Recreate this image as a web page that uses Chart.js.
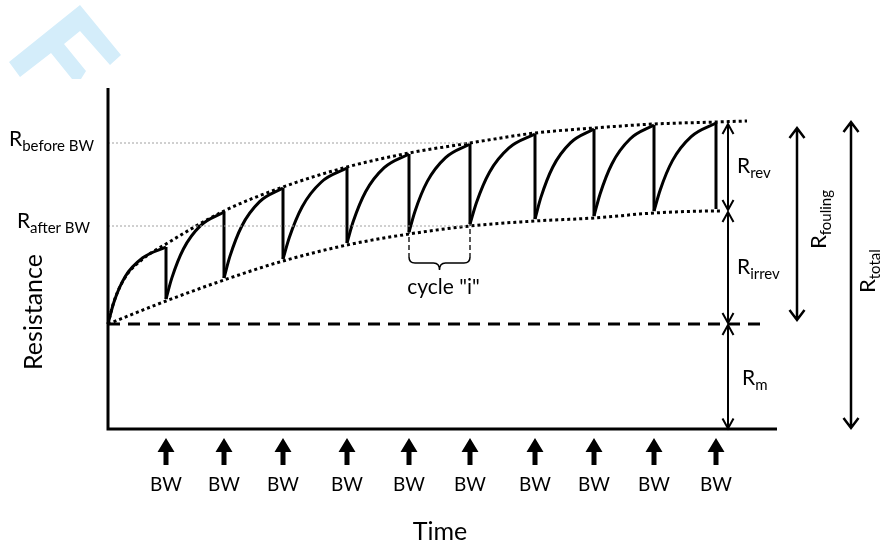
<!DOCTYPE html>
<html>
<head>
<meta charset="utf-8">
<script src="https://cdn.jsdelivr.net/npm/chart.js@4.4.1/dist/chart.umd.min.js"></script>
<style>
  html, body { margin: 0; padding: 0; background: #fff; }
  canvas { display: block; }
</style>
</head>
<body>
<canvas id="grafik" width="883" height="544"></canvas>
<script>
// data (waktu dan resistansi dalam satuan bebas)
const bwTime = [5.8, 11.6, 17.5, 23.9, 30.1, 36.2, 42.7, 48.6, 54.6, 60.8];
const peakR = [18.2, 21.7, 24.1, 26.1, 27.5, 28.5, 29.5, 30.0, 30.4, 30.6];
const afterBwR = [13.0, 15.1, 17.0, 18.6, 19.7, 20.5, 21.0, 21.3, 21.8, 22.0];
const rMembrane = 10.5;
const rBefore = 28.6;
const rAfter = 20.3;
const axisTop = 34.1;
const axisEnd = 66.9;

// kurva filtrasi tiap siklus
const cycleT = [
  [0, 0.58, 1.74, 3.48, 5.8],
  [5.8, 6.38, 7.54, 9.28, 11.6],
  [11.6, 12.19, 13.37, 15.14, 17.5],
  [17.5, 18.14, 19.42, 21.34, 23.9],
  [23.9, 24.52, 25.76, 27.62, 30.1],
  [30.1, 30.71, 31.93, 33.76, 36.2],
  [36.2, 36.85, 38.15, 40.1, 42.7],
  [42.7, 43.29, 44.47, 46.24, 48.6],
  [48.6, 49.2, 50.4, 52.2, 54.6],
  [54.6, 55.22, 56.46, 58.32, 60.8],
];
const cycleR = [
  [10.5, 12.66, 15.27, 17.12, 18.2],
  [13.0, 15.09, 18.0, 20.36, 21.7],
  [15.1, 17.26, 20.28, 22.71, 24.1],
  [17.0, 19.18, 22.23, 24.7, 26.1],
  [18.6, 20.74, 23.72, 26.13, 27.5],
  [19.7, 21.81, 24.76, 27.14, 28.5],
  [20.5, 22.66, 25.68, 28.11, 29.5],
  [21.0, 23.16, 26.18, 28.61, 30.0],
  [21.3, 23.48, 26.53, 29.0, 30.4],
  [21.8, 23.91, 26.86, 29.24, 30.6],
];

// garis titik-titik atas dan bawah
const upperT = [0, 0.58, 1.74, 3.48, 5.8, 11.6, 17.5, 23.9, 30.1, 36.2, 42.7, 48.6, 54.6, 60.8, 63.9];
const upperR = [10.5, 12.7, 15.2, 17.0, 18.5, 21.8, 24.2, 26.2, 27.6, 28.6, 29.6, 30.1, 30.5, 30.7, 30.8];
const lowerT = [0, 5.8, 11.6, 17.5, 23.9, 30.1, 36.2, 42.7, 48.6, 54.6, 60.8, 61.3];
const lowerR = [10.5, 12.8, 14.9, 16.8, 18.4, 19.5, 20.3, 20.8, 21.1, 21.6, 21.8, 21.8];

// siklus "i" dan panah kanan
const cycleI = [30.1, 36.2];
const cycleITop = 23.2;
const cycleIBottom = 17.2;
const arrowX = { rev: 62.0, fouling: 68.9, total: 74.3 };
const revTop = 30.5, revBottom = 21.9;
const irrevTop = 21.7, irrevBottom = 10.6;
const mTop = 10.4, mBottom = 0.05;
const foulingTop = 30.1, foulingBottom = 10.9;
const totalTop = 30.7, totalBottom = 0.1;

const FONT = "Lato, 'Open Sans', sans-serif";

function titik(ts, rs) {
  return ts.map((t, i) => ({ x: t, y: rs[i] }));
}

const datasets = [];

// sumbu
datasets.push({
  data: [{ x: 0, y: axisTop }, { x: 0, y: 0 }, { x: axisEnd, y: 0 }],
  borderColor: "#000", borderWidth: 3, clip: false, tension: 0,
});

// garis R membran
datasets.push({
  data: [{ x: 0, y: rMembrane }, { x: 65.7, y: rMembrane }],
  borderColor: "#000", borderWidth: 3, borderDash: [12, 8], clip: false,
});

// garis bantu abu-abu
[rBefore, rAfter].forEach((r) => {
  datasets.push({
    data: [{ x: 0, y: r }, { x: 36.2, y: r }],
    borderColor: "#a0a0a0", borderWidth: 1, borderDash: [2, 2],
  });
});

// envelope atas dan bawah
datasets.push({
  data: titik(upperT, upperR),
  borderColor: "#000", borderWidth: 3, borderDash: [3, 3],
  cubicInterpolationMode: "monotone", clip: false,
});
datasets.push({
  data: titik(lowerT, lowerR),
  borderColor: "#000", borderWidth: 3, borderDash: [3, 3],
  cubicInterpolationMode: "monotone", clip: false,
});

// kurva tiap siklus
cycleT.forEach((ts, i) => {
  datasets.push({
    data: titik(ts, cycleR[i]),
    borderColor: "#000", borderWidth: 3,
    cubicInterpolationMode: "monotone", clip: false,
  });
});

// penurunan saat backwash
const drop = [];
bwTime.forEach((t, i) => {
  drop.push({ x: t, y: peakR[i] }, { x: t, y: afterBwR[i] }, { x: t, y: null });
});
datasets.push({
  data: drop, borderColor: "#000", borderWidth: 3, spanGaps: false, tension: 0, clip: false,
});

// garis putus siklus "i"
const garisI = [];
cycleI.forEach((t) => {
  garisI.push({ x: t, y: cycleITop }, { x: t, y: cycleIBottom }, { x: t, y: null });
});
datasets.push({
  data: garisI, borderColor: "#222", borderWidth: 1.5, borderDash: [5, 3], spanGaps: false, tension: 0,
});

// tulisan R dengan subscript
function tulisR(ctx, x, y, sub, rataKanan, besar) {
  const fR = (besar || 21) + "px " + FONT;
  const fS = "15px " + FONT;
  ctx.font = fR;
  const wR = ctx.measureText("R").width;
  ctx.font = fS;
  const wS = ctx.measureText(sub).width;
  let x0 = rataKanan ? x - wR - wS : x;
  ctx.textAlign = "left";
  ctx.textBaseline = "alphabetic";
  ctx.font = fR;
  ctx.fillText("R", x0, y);
  ctx.font = fS;
  ctx.fillText(sub, x0 + wR, y + 5);
}

function panahV(ctx, x, y1, y2, atas, bawah, lebar) {
  const h = lebar || 6;
  ctx.beginPath();
  ctx.moveTo(x, y1);
  ctx.lineTo(x, y2);
  if (atas) {
    ctx.moveTo(x - h, y1 + 10);
    ctx.lineTo(x, y1);
    ctx.lineTo(x + h, y1 + 10);
  }
  if (bawah) {
    ctx.moveTo(x - h, y2 - 10);
    ctx.lineTo(x, y2);
    ctx.lineTo(x + h, y2 - 10);
  }
  ctx.stroke();
}

const anotasi = {
  id: "anotasi",
  beforeDatasetsDraw(chart) {
    // logo watermark
    const ctx = chart.ctx;
    const logo = [[9, 62], [80, 5], [121, 55], [110, 65], [80, 31], [64, 44], [86, 71], [81, 79], [72, 79], [51, 53], [20, 77]];
    ctx.save();
    ctx.fillStyle = "#d4edfa";
    ctx.beginPath();
    logo.forEach((p, i) => (i ? ctx.lineTo(p[0], p[1]) : ctx.moveTo(p[0], p[1])));
    ctx.closePath();
    ctx.fill();
    ctx.restore();
  },
  afterDraw(chart) {
    const ctx = chart.ctx;
    const px = (v) => chart.scales.x.getPixelForValue(v);
    const py = (v) => chart.scales.y.getPixelForValue(v);
    ctx.save();
    ctx.fillStyle = "#000";
    ctx.strokeStyle = "#000";

    // label kiri
    tulisR(ctx, 94, py(rBefore) + 3, "before BW", true);
    tulisR(ctx, 90, py(rAfter) + 2, "after BW", true);

    // judul sumbu
    ctx.save();
    ctx.translate(34, 312);
    ctx.rotate(-Math.PI / 2);
    ctx.font = "25px " + FONT;
    ctx.textAlign = "center";
    ctx.textBaseline = "middle";
    ctx.fillText("Resistance", 0, 0);
    ctx.restore();
    ctx.font = "25px " + FONT;
    ctx.textAlign = "center";
    ctx.textBaseline = "alphabetic";
    ctx.fillText("Time", 440, 540);

    // panah BW
    bwTime.forEach((t) => {
      const x = px(t);
      ctx.beginPath();
      ctx.moveTo(x, 438);
      ctx.lineTo(x + 8.5, 452);
      ctx.lineTo(x + 2.5, 452);
      ctx.lineTo(x + 2.5, 465);
      ctx.lineTo(x - 2.5, 465);
      ctx.lineTo(x - 2.5, 452);
      ctx.lineTo(x - 8.5, 452);
      ctx.closePath();
      ctx.fill();
      ctx.font = "19px " + FONT;
      ctx.textAlign = "center";
      ctx.fillText("BW", x, 491);
    });

    // kurung kurawal siklus "i"
    const x1 = px(cycleI[0]), x2 = px(cycleI[1]), xm = (x1 + x2) / 2;
    const yA = py(cycleIBottom), yB = yA + 6, yC = yA + 13;
    ctx.lineWidth = 1.5;
    ctx.beginPath();
    ctx.moveTo(x1, yA);
    ctx.quadraticCurveTo(x1, yB, x1 + 6, yB);
    ctx.lineTo(xm - 6, yB);
    ctx.quadraticCurveTo(xm, yB, xm, yC);
    ctx.moveTo(x2, yA);
    ctx.quadraticCurveTo(x2, yB, x2 - 6, yB);
    ctx.lineTo(xm + 6, yB);
    ctx.quadraticCurveTo(xm, yB, xm, yC);
    ctx.stroke();
    ctx.font = "21px " + FONT;
    ctx.textAlign = "center";
    ctx.fillText('cycle "i"', xm + 4, 294);

    // panah kanan
    ctx.lineWidth = 2;
    const xr = px(arrowX.rev);
    panahV(ctx, xr, py(revTop), py(revBottom), true, true, 5.5);
    panahV(ctx, xr, py(irrevTop), py(irrevBottom), true, true, 5.5);
    panahV(ctx, xr, py(mTop), py(mBottom), true, true, 5.5);
    ctx.lineWidth = 2.5;
    panahV(ctx, px(arrowX.fouling), py(foulingTop), py(foulingBottom), true, true, 7.5);
    panahV(ctx, px(arrowX.total), py(totalTop), py(totalBottom), true, true, 7.5);

    tulisR(ctx, 737, (py(revTop) + py(revBottom)) / 2 + 6, "rev", false);
    tulisR(ctx, 737, (py(irrevTop) + py(irrevBottom)) / 2 + 6, "irrev", false);
    tulisR(ctx, 742, (py(mTop) + py(mBottom)) / 2 + 8, "m", false);

    ctx.save();
    ctx.translate(826, 249);
    ctx.rotate(-Math.PI / 2);
    tulisR(ctx, 0, 0, "fouling", false, 22);
    ctx.restore();
    ctx.save();
    ctx.translate(875, 293);
    ctx.rotate(-Math.PI / 2);
    tulisR(ctx, 0, 0, "total", false, 22);
    ctx.restore();

    ctx.restore();
  },
};

new Chart(document.getElementById("grafik"), {
  type: "line",
  data: { datasets: datasets },
  options: {
    responsive: false,
    animation: false,
    events: [],
    layout: { padding: { left: 108, right: 106, top: 88, bottom: 115 } },
    scales: {
      x: { type: "linear", display: false, min: 0, max: axisEnd },
      y: { display: false, min: 0, max: axisTop },
    },
    elements: { point: { radius: 0 }, line: { fill: false, borderCapStyle: "butt" } },
    plugins: { legend: { display: false }, tooltip: { enabled: false } },
  },
  plugins: [anotasi],
});
</script>
</body>
</html>
